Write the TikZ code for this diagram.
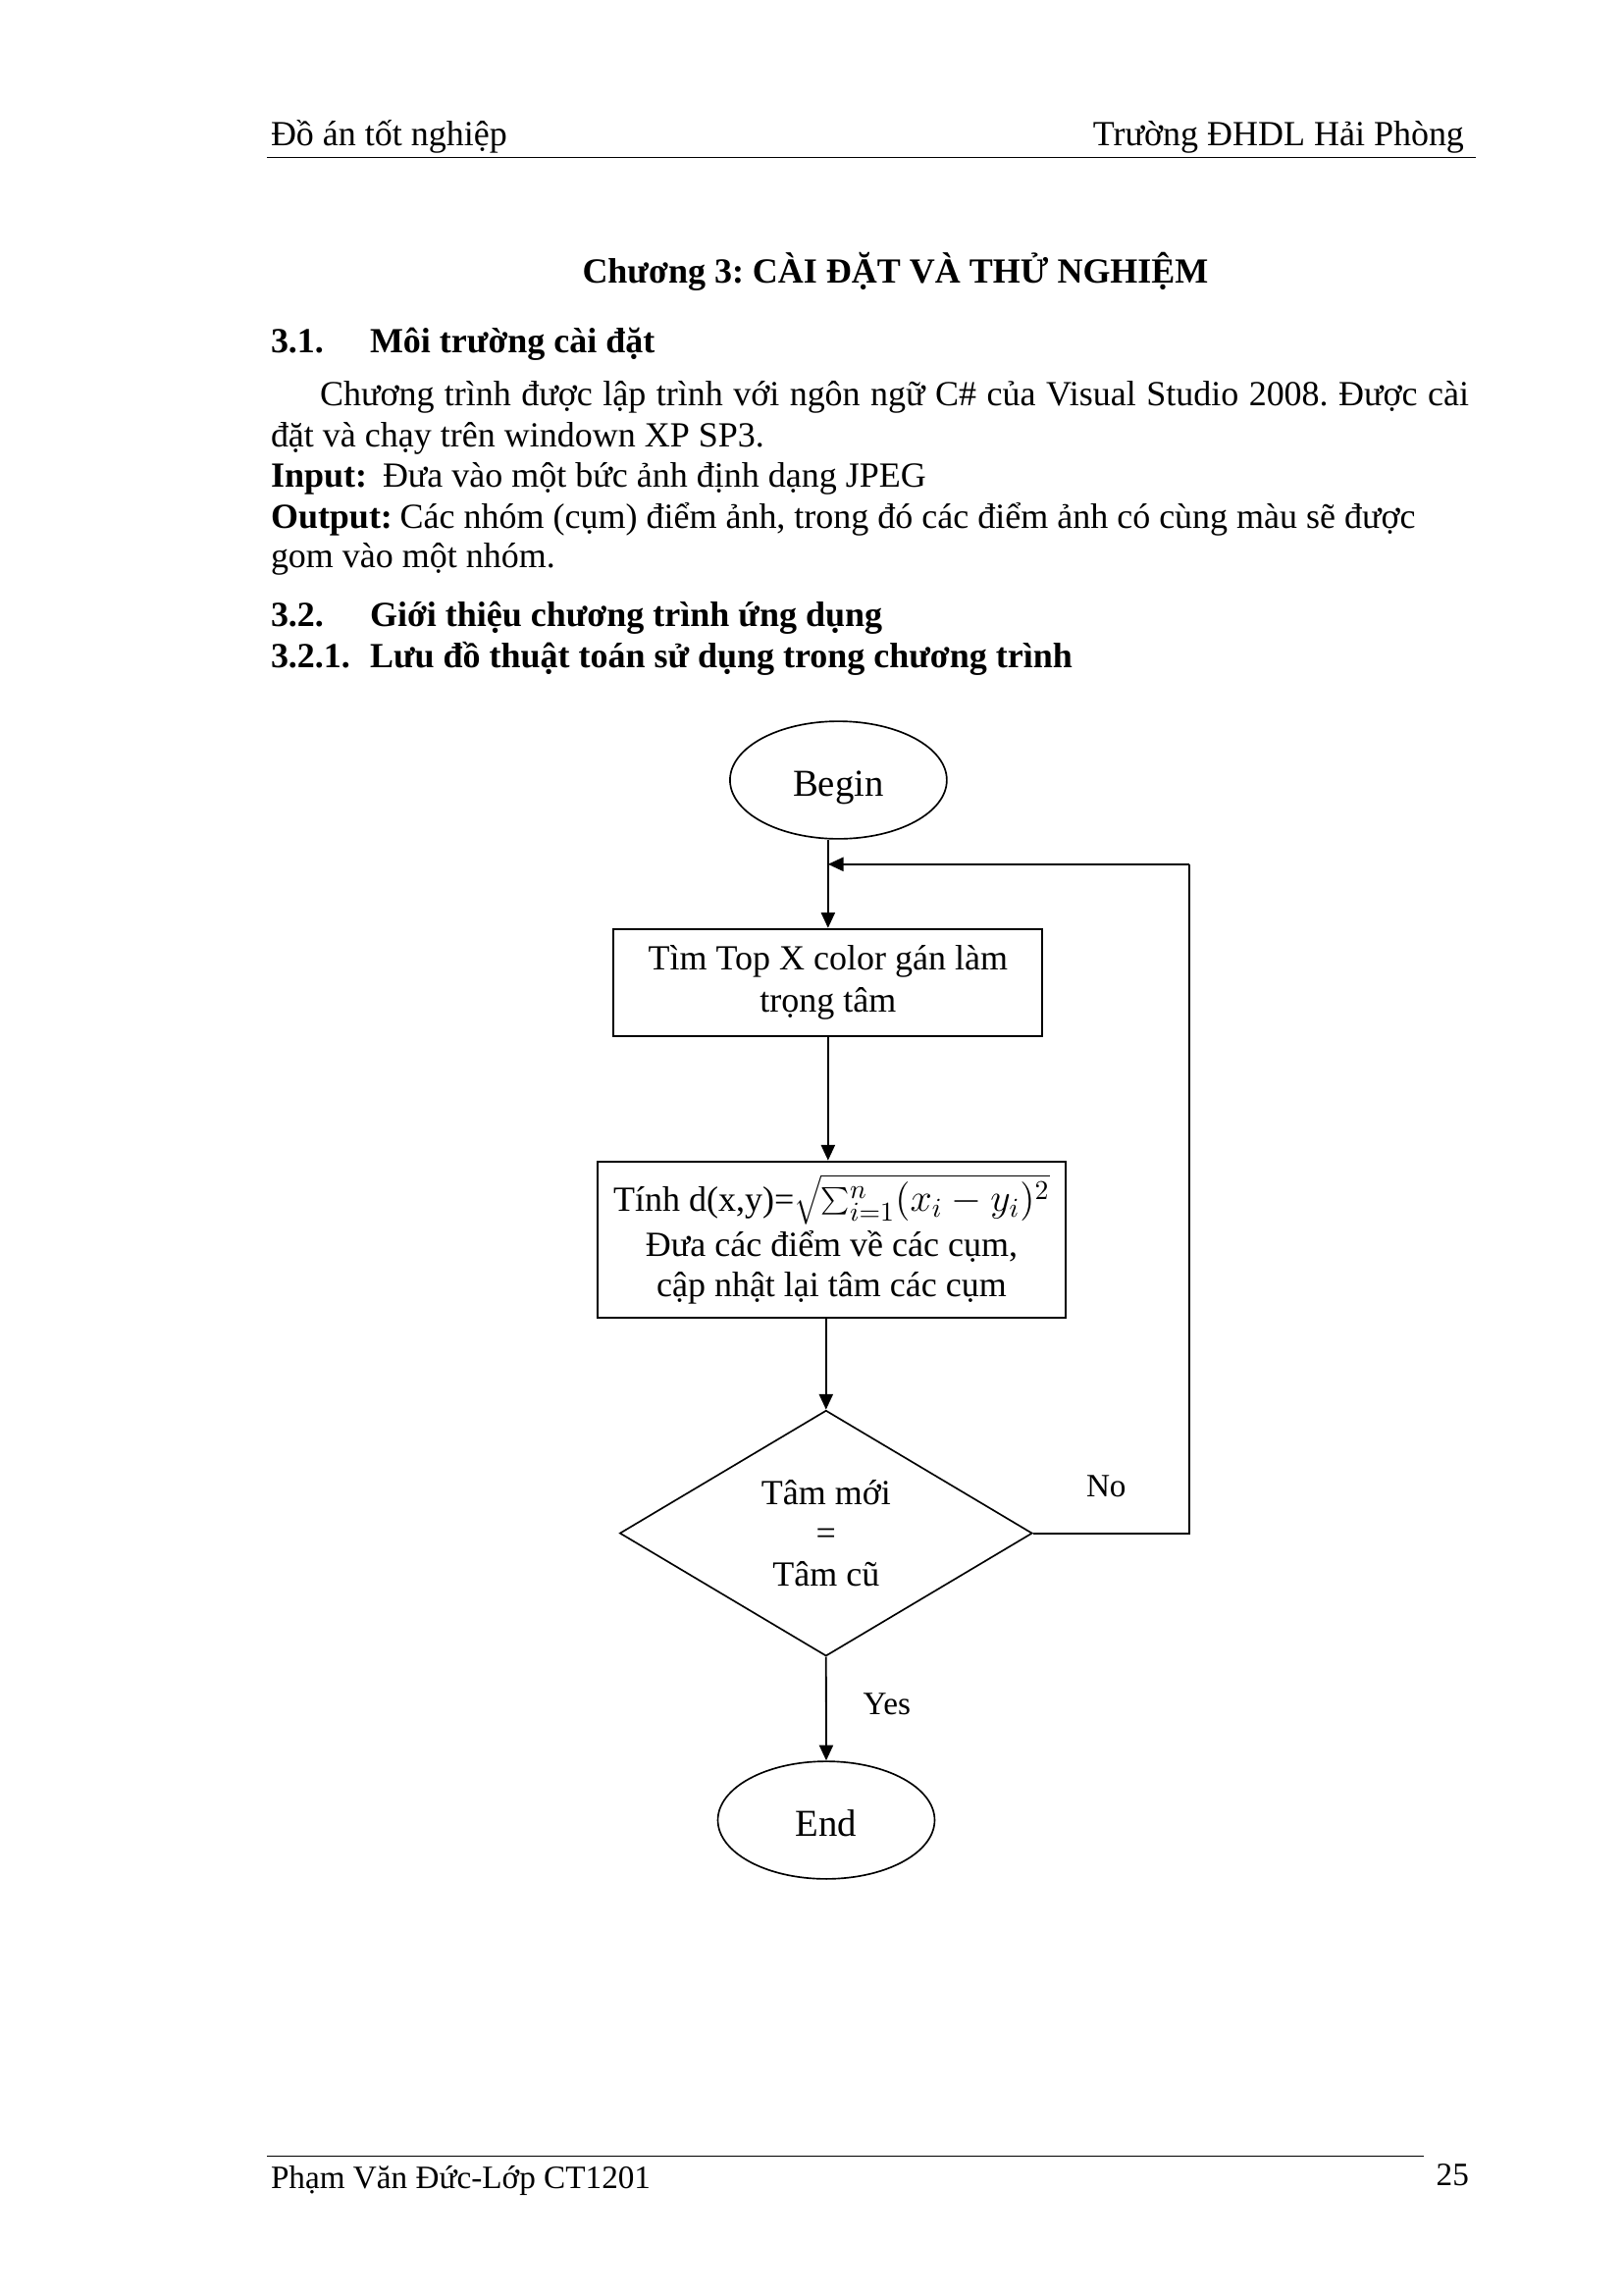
\documentclass[tikz,border=0pt]{standalone}
\usepackage{fontspec}
\setmainfont{Liberation Serif}
\usetikzlibrary{shapes.geometric,arrows.meta}
\frenchspacing
\begin{document}
\begin{tikzpicture}[x=0.126965mm,y=-0.126965mm,
  txt/.style={inner sep=0pt, outer sep=0pt, anchor=base west, font=\fontsize{13}{15.5}\selectfont\frenchspacing},
  txtb/.style={txt, font=\fontsize{13}{15.5}\selectfont\bfseries\frenchspacing},
  ftxt/.style={txt, font=\fontsize{12}{14}\selectfont},
  lbl/.style={inner sep=0pt, outer sep=0pt, anchor=base west, font=\fontsize{12}{14}\selectfont},
  term/.style={ellipse, draw, line width=0.6pt, inner sep=0pt, minimum width=28.05mm, minimum height=15.21mm, text height=12.2pt, text depth=0pt, font=\fontsize{14}{16}\selectfont},
  procbox/.style={rectangle, draw, line width=0.75pt, inner sep=0pt, align=center},
  decision/.style={diamond, draw, line width=0.6pt, inner sep=0pt, aspect=1.68, minimum width=53.38mm, minimum height=31.79mm, align=center, font={\fontsize{13}{14.9}\selectfont\lineskiplimit=-100pt}},
  arr/.style={-{Triangle[length=2mm,width=1.8mm]}, line width=0.65pt},
  conn/.style={line width=0.65pt},
  rule/.style={line width=0.5pt}]
\useasboundingbox (0,0) rectangle (1654,2339);
% header
\node[txt] (hdrL) at (276,149) {Đồ án tốt nghiệp};
\node[txt, anchor=base east] (hdrR) at (1492,149) {Trường ĐHDL Hải Phòng};
\coordinate (hr1) at (272,160.8);
\coordinate (hr2) at (1503.8,160.8);
\draw[rule] (hr1) -- (hr2);
% title and text
\node[txtb] (title) at (593.5,288.5) {Chương 3: CÀI ĐẶT VÀ THỬ NGHIỆM};
\node[txtb] (s31n) at (276,359.6) {3.1.};
\node[txtb] (s31) at (377,359.6) {Môi trường cài đặt};
\node[txt] (p1) at (326,413.5) {\makebox[148.68mm][s]{Chương trình được lập trình với ngôn ngữ C\# của Visual Studio 2008. Được cài}};
\node[txt] (p2) at (276,455.8) {đặt và chạy trên windown XP SP3.};
\node[txtb] (inl) at (276,496) {Input:};
\node[txt] (inp) at (390,496) {Đưa vào một bức ảnh định dạng JPEG};
\node[txtb] (outl) at (276,538.4) {Output:};
\node[txt] (outp) at (407.7,538.4) {Các nhóm (cụm) điểm ảnh, trong đó các điểm ảnh có cùng màu sẽ được};
\node[txt] (outp2) at (276,578.8) {gom vào một nhóm.};
\node[txtb] (s32n) at (276,638.5) {3.2.};
\node[txtb] (s32) at (377,638.5) {Giới thiệu chương trình ứng dụng};
\node[txtb] (s321n) at (276,680.8) {3.2.1.};
\node[txtb] (s321) at (377,680.8) {Lưu đồ thuật toán sử dụng trong chương trình};
% flowchart
\node[term] (begin) at (854.4,795) {Begin};
\node[procbox, minimum width=55.5mm, minimum height=13.84mm, font={\fontsize{13}{15.7}\selectfont\lineskiplimit=-100pt}] (box1) at (843.85,1001.3) {Tìm Top X color gán làm\\trọng tâm};
\node[procbox, minimum width=60.5mm, minimum height=20.23mm, font={\fontsize{13}{15}\selectfont\lineskiplimit=-100pt}] (box2) at (847.45,1263.35) {Tính d(x,y)={\fontsize{14}{15}\selectfont$\sqrt{\sum_{i=1}^{n}(x_i-y_i)^2}$}\\[1.6pt]Đưa các điểm về các cụm,\\cập nhật lại tâm các cụm};
\node[decision] (dia) at (841.8,1562.6) {Tâm mới\\=\\Tâm cũ};
\node[term] (end) at (842,1855) {End};
\node[lbl] (no) at (1107,1525) {No};
\node[lbl] (yes) at (879.7,1747) {Yes};
\coordinate (nR) at (1211.8,1562.6);
\coordinate (nT) at (1211.8,880.8);
\coordinate (join) at (843.85,880.8);
\draw[arr] (box1.north |- begin.south) -- (box1.north);
\draw[arr] (box1.south) -- (box1.south |- box2.north);
\draw[arr] (dia.north |- box2.south) -- (dia.north);
\draw[arr] (dia.south) -- (end.north);
\draw[conn] (dia.east) -- (nR) -- (nT);
\draw[arr] (nT) -- (join);
% footer
\coordinate (fr1) at (272,2197.3);
\coordinate (fr2) at (1450.7,2197.3);
\draw[rule] (fr1) -- (fr2);
\node[ftxt] (foot) at (276,2230.7) {Phạm Văn Đức-Lớp CT1201};
\node[ftxt] (page) at (1463.7,2227.3) {25};
\end{tikzpicture}
\end{document}
